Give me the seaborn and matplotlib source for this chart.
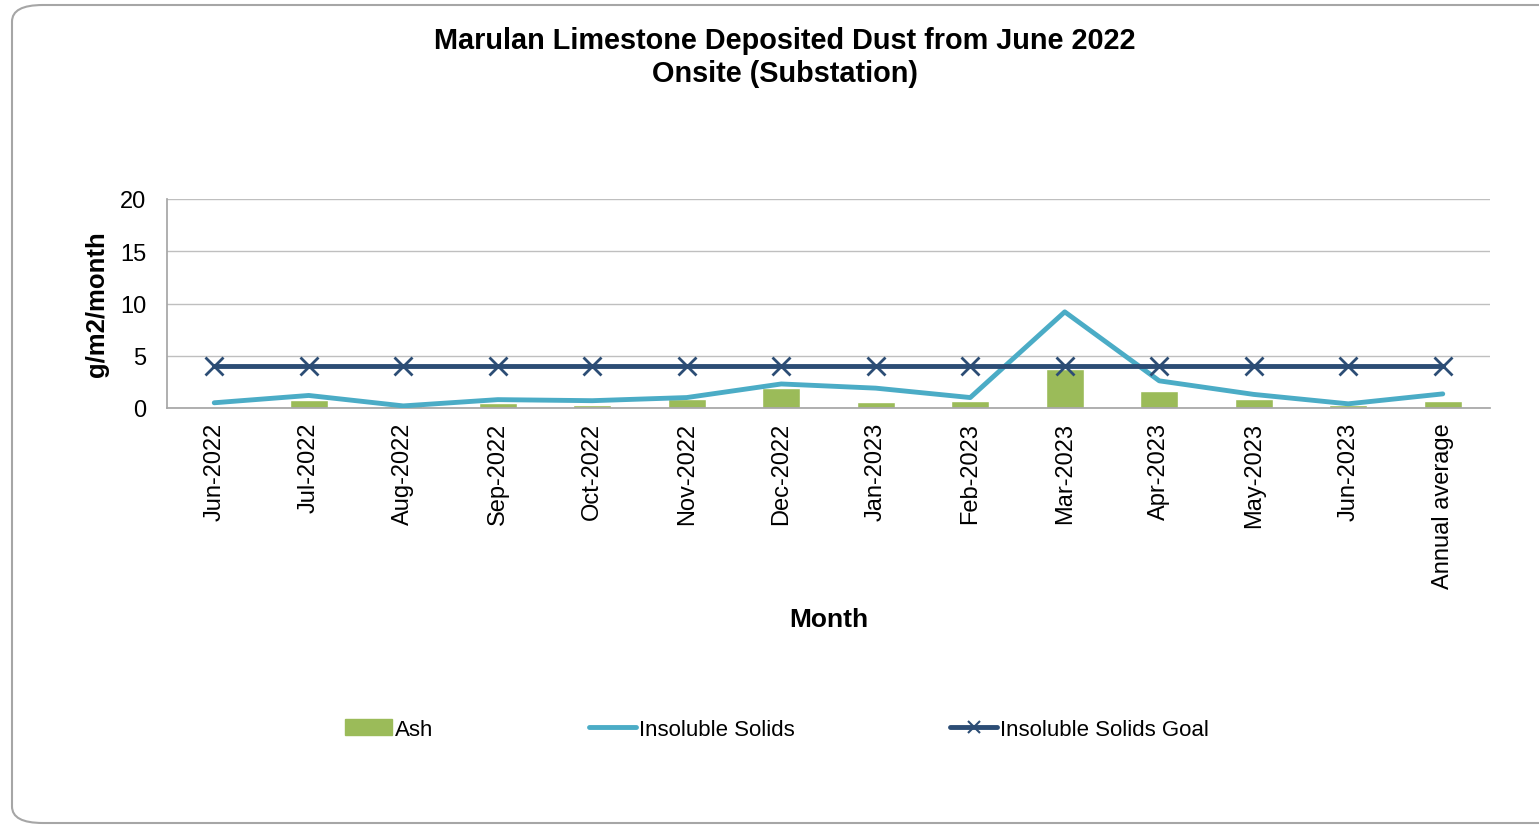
import numpy as np
import pandas as pd
import seaborn as sns
import matplotlib
matplotlib.use('Agg')
from matplotlib import pyplot as plt
from matplotlib.patches import FancyBboxPatch
from matplotlib.lines import Line2D
from matplotlib.patches import Patch

months = ['Jun-2022', 'Jul-2022', 'Aug-2022', 'Sep-2022', 'Oct-2022', 'Nov-2022',
          'Dec-2022', 'Jan-2023', 'Feb-2023', 'Mar-2023', 'Apr-2023', 'May-2023',
          'Jun-2023', 'Annual average']
ash = [0.0, 0.8, 0.15, 0.45, 0.3, 0.9, 1.9, 0.55, 0.65, 3.7, 1.65, 0.9, 0.3, 0.65]
insoluble = [0.5, 1.2, 0.2, 0.8, 0.7, 1.0, 2.3, 1.9, 1.0, 9.2, 2.6, 1.3, 0.4, 1.35]
goal = [4] * 14

ASH_C = '#9bbb59'
INS_C = '#4bacc6'
GOAL_C = '#2c4d75'

sns.set_theme(style='white')
plt.rcParams['font.family'] = ['Liberation Sans', 'DejaVu Sans']
plt.rcParams['text.color'] = 'black'
plt.rcParams['axes.labelcolor'] = 'black'
plt.rcParams['xtick.color'] = 'black'
plt.rcParams['ytick.color'] = 'black'

df = pd.DataFrame({'month': months, 'ash': ash, 'insoluble': insoluble, 'goal': goal})
df['pos'] = np.arange(len(df))

fig = plt.figure(figsize=(15.39, 8.28), dpi=100)
ax = fig.add_axes([167 / 1539, 1 - 409 / 828, (1490 - 167) / 1539, (409 - 200) / 828])

# rounded frame around the chart
frame = FancyBboxPatch((12 / 1539, 4 / 828), 1.2, 1 - 10 / 828,
                       boxstyle='round,pad=0,rounding_size=0.02',
                       transform=fig.transFigure, fill=False,
                       edgecolor='#a6a6a6', linewidth=1.5, zorder=-1)
fig.patches.append(frame)

sns.barplot(data=df, x='month', y='ash', color=ASH_C, width=0.4, saturation=1,
            ax=ax, zorder=2)
sns.lineplot(data=df, x='pos', y='insoluble', color=INS_C, linewidth=3.5, ax=ax, zorder=3)
sns.lineplot(data=df, x='pos', y='goal', color=GOAL_C, linewidth=3.5, marker='x',
             markersize=13, markeredgewidth=2, markeredgecolor=GOAL_C, ax=ax, zorder=4)

ax.set_xlim(-0.5, len(months) - 0.5)
ax.set_ylim(0, 20)
ax.set_yticks([0, 5, 10, 15, 20])
ax.set_xticks(df['pos'])
ax.set_xticklabels(months, rotation=90, fontsize=17)
ax.tick_params(axis='y', labelsize=17, length=0, pad=15)
ax.tick_params(axis='x', length=0, pad=10)
ax.yaxis.grid(True, color='#bfbfbf', linewidth=1)
ax.set_axisbelow(True)
for s in ['top', 'right']:
    ax.spines[s].set_visible(False)
ax.spines['left'].set_color('#a6a6a6')
ax.spines['bottom'].set_color('#a6a6a6')

ax.set_xlabel('Month', fontsize=19, fontweight='bold', labelpad=14)
ax.set_ylabel('g/m2/month', fontsize=18.5, fontweight='bold', labelpad=8)

fig.text(0.51, 1 - 41 / 828, 'Marulan Limestone Deposited Dust from June 2022',
         ha='center', va='center', fontsize=20.8, fontweight='bold')
fig.text(0.51, 1 - 74 / 828, 'Onsite (Substation)',
         ha='center', va='center', fontsize=20.8, fontweight='bold')

handles = [Patch(color=ASH_C),
           Line2D([], [], color=INS_C, linewidth=3.5),
           Line2D([], [], color=GOAL_C, linewidth=3.5, marker='x', markersize=8,
                  markeredgewidth=1.5)]
fig.legend(handles, ['Ash', 'Insoluble Solids', 'Insoluble Solids Goal'],
           loc='center', bbox_to_anchor=(0.505, 1 - 730 / 828), ncol=3,
           frameon=False, fontsize=16, columnspacing=7, handlelength=2.1,
           handletextpad=0.15)

fig.savefig('out.png', dpi=100)
